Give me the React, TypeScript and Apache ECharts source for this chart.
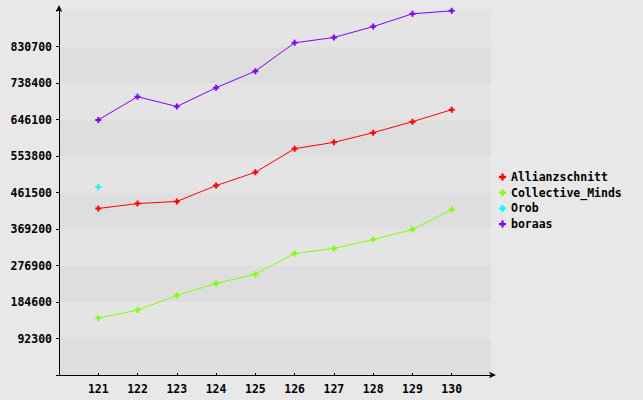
import React, { useEffect, useRef } from "react";
import * as echarts from "echarts";

const categories = [121, 122, 123, 124, 125, 126, 127, 128, 129, 130];
const allianzschnitt = [421000, 433500, 439000, 479000, 512600, 572400, 588300, 612800, 640600, 670900];
const collectiveMinds = [143900, 164100, 201200, 231500, 255000, 307300, 319900, 342600, 367900, 418400];
const orob = [475500];
const boraas = [645000, 703700, 679000, 726400, 768400, 840000, 853500, 881000, 913300, 920800];

const seriesNames = ["Allianzschnitt", "Collective_Minds", "Orob", "boraas"];
const seriesColors = ["#ff0000", "#80ff00", "#00ffff", "#8000ff"];
const seriesValues = [allianzschnitt, collectiveMinds, orob, boraas];

const PLUS = "path://M2,0h2v2h2v2h-2v2h-2v-2h-2v-2h2z";
const FONT = "DejaVu Sans Mono";

export default function App() {
  const ref = useRef<HTMLDivElement>(null);
  useEffect(() => {
    const chart = echarts.init(ref.current!, null, { renderer: "svg" });
    chart.setOption({
      animation: false,
      backgroundColor: "#e8e8e8",
      grid: { left: 59, top: 10, right: 152, bottom: 25 },
      legend: {
        orient: "vertical",
        left: 494,
        top: 166,
        itemWidth: 7,
        itemHeight: 7,
        itemGap: 3.7,
        icon: PLUS,
        textStyle: { fontFamily: FONT, fontWeight: "bold", fontSize: 11.5, color: "#000" },
        data: seriesNames,
      },
      xAxis: {
        type: "value",
        min: 120,
        max: 131,
        interval: 1,
        splitLine: { show: false },
        axisLine: { lineStyle: { color: "#000" }, symbol: ["none", "arrow"], symbolSize: [5, 7], symbolOffset: [0, 5] },
        axisTick: { inside: true, length: 2, lineStyle: { color: "#000" } },
        axisLabel: {
          fontFamily: FONT,
          fontWeight: "bold",
          fontSize: 11.5,
          color: "#000",
          margin: 8,
          formatter: (v: number) => (v >= 121 && v <= 130 ? String(v) : ""),
        },
      },
      yAxis: {
        type: "value",
        min: 0,
        max: 923000,
        interval: 92300,
        splitLine: { show: false },
        splitArea: { show: true, areaStyle: { color: ["#dedede", "#e4e4e4"] } },
        axisLine: { show: true, lineStyle: { color: "#000" }, symbol: ["none", "arrow"], symbolSize: [5, 7], symbolOffset: [0, 5] },
        axisTick: { show: true, length: 3, lineStyle: { color: "#000" } },
        axisLabel: {
          fontFamily: FONT,
          fontWeight: "bold",
          fontSize: 11.5,
          color: "#000",
          margin: 7,
          formatter: (v: number) => (v > 0 && v < 923000 ? String(v) : ""),
        },
      },
      series: seriesNames.map((name, i) => ({
        name,
        type: "line",
        symbol: PLUS,
        symbolSize: 6,
        showSymbol: true,
        color: seriesColors[i],
        lineStyle: { width: 1, color: seriesColors[i] },
        itemStyle: { color: seriesColors[i] },
        data: seriesValues[i].map((v, j) => [categories[j], v]),
      })),
    });
    return () => chart.dispose();
  }, []);
  return <div ref={ref} style={{ width: 643, height: 400, position: "absolute", left: 0, top: 0 }} />;
}
